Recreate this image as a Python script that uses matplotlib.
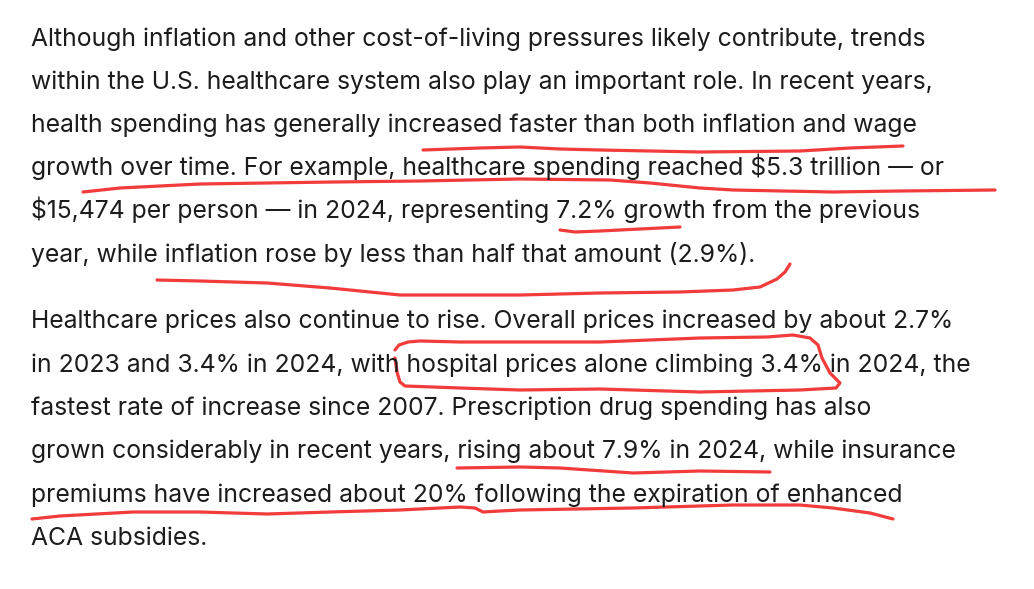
import matplotlib.pyplot as plt

W, H = 1034, 589

# text lines of the two paragraphs, with their baselines in pixels
para1 = [
    'Although inflation and other cost-of-living pressures likely contribute, trends',
    'within the U.S. healthcare system also play an important role. In recent years,',
    'health spending has generally increased faster than both inflation and wage',
    'growth over time. For example, healthcare spending reached $5.3 trillion \u2014 or',
    '$15,474 per person \u2014 in 2024, representing 7.2% growth from the previous',
    'year, while inflation rose by less than half that amount (2.9%).',
]
para2 = [
    'Healthcare prices also continue to rise. Overall prices increased by about 2.7%',
    'in 2023 and 3.4% in 2024, with hospital prices alone climbing 3.4% in 2024, the',
    'fastest rate of increase since 2007. Prescription drug spending has also',
    'grown considerably in recent years, rising about 7.9% in 2024, while insurance',
    'premiums have increased about 20% following the expiration of enhanced',
    'ACA subsidies.',
]
baselines1 = [46, 89, 132, 175, 218, 262]
baselines2 = [328, 372, 415, 458, 502, 545]

# red hand-drawn marks (pixel coords)
stroke_wage = [(423, 150), (480, 148), (520, 147), (560, 149), (600, 150), (700, 152),
               (800, 151), (850, 148), (903, 146)]
stroke_spending = [(83, 192), (120, 188), (200, 184), (333, 182), (420, 181), (520, 179),
                   (610, 180), (650, 183), (700, 188), (733, 190), (833, 192), (900, 191),
                   (995, 190)]
stroke_growth = [(560, 230), (575, 232), (600, 231), (640, 229), (680, 227)]
stroke_inflation = [(157, 280), (200, 281), (267, 283), (330, 288), (400, 295), (520, 295),
                    (600, 293), (680, 292), (733, 290), (760, 287), (777, 279), (785, 272),
                    (790, 264)]
stroke_hospital = [(395, 350), (399, 345), (408, 342), (420, 341), (460, 342), (520, 342),
                   (600, 342), (700, 338), (767, 337), (793, 335), (810, 338), (818, 345),
                   (822, 358), (830, 373), (840, 383), (836, 388), (800, 390), (700, 392),
                   (600, 389), (520, 390), (460, 388), (405, 386), (400, 382), (397, 372),
                   (395, 358)]
stroke_rising = [(457, 468), (520, 467), (560, 468), (633, 473), (700, 471), (770, 472)]
stroke_premiums = [(32, 519), (60, 516), (133, 512), (200, 512), (267, 514), (330, 512),
                   (400, 510), (460, 507), (475, 508), (483, 512), (500, 511), (520, 510),
                   (633, 508), (733, 505), (800, 505), (833, 508), (870, 513), (893, 519)]

strokes = [stroke_wage, stroke_spending, stroke_growth, stroke_inflation,
           stroke_hospital, stroke_rising, stroke_premiums]

text_color = '#1c1c1c'
red = '#f23b3b'
font = 'Inter'
left = 31
target_width = 892  # width of the first line in pixels

fig = plt.figure(figsize=(W / 100, H / 100), dpi=100)
ax = fig.add_axes([0, 0, 1, 1])
ax.set_xlim(0, W)
ax.set_ylim(H, 0)
ax.axis('off')

# fit the font size to the first line
size = 18
probe = ax.text(0, 0, para1[0], fontsize=size, family=font, parse_math=False)
fig.canvas.draw()
w = probe.get_window_extent(fig.canvas.get_renderer()).width
probe.remove()
size = size * target_width / w

for lines, bases in [(para1, baselines1), (para2, baselines2)]:
    for line, y in zip(lines, bases):
        ax.text(left, y, line, fontsize=size, family=font, color=text_color,
                va='baseline', ha='left', parse_math=False)

for s in strokes:
    xs = [p[0] for p in s]
    ys = [p[1] for p in s]
    ax.plot(xs, ys, color=red, lw=2.3, solid_capstyle='round', solid_joinstyle='round')

fig.savefig('out.png', dpi=100, facecolor='white')
